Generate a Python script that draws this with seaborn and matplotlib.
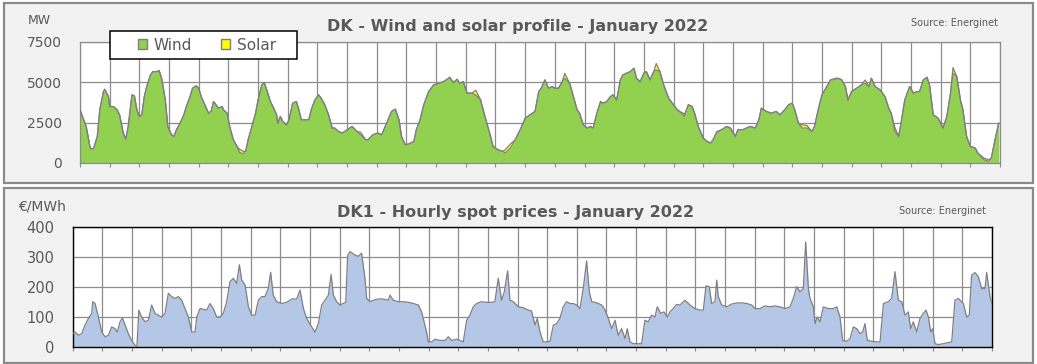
import matplotlib
matplotlib.use("Agg")
import matplotlib.pyplot as plt
import seaborn as sns
import pandas as pd
from matplotlib.patches import Rectangle, Patch

# ---------------- data ----------------
wind_hours = [0, 5, 8, 9, 11, 14, 16, 19, 20, 23, 24, 27, 30, 32, 35, 37, 39, 42, 44, 46,
              48, 50, 52, 54, 57, 59, 62, 64, 66, 69, 71, 74, 76, 78, 81, 84, 86, 89, 91, 94,
              96, 98, 101, 104, 106, 108, 110, 112, 115, 116, 119, 121, 124, 127, 129, 132, 134, 136, 139, 142,
              144, 147, 149, 151, 154, 156, 159, 160, 162, 164, 167, 169, 172, 175, 177, 179, 182, 185, 187, 190,
              193, 195, 198, 201, 204, 206, 209, 212, 214, 220, 224, 227, 231, 233, 237, 241, 244, 248, 252, 255,
              258, 260, 263, 266, 270, 272, 275, 278, 282, 286, 290, 294, 297, 299, 302, 305, 307, 310, 313, 317,
              320, 324, 326, 329, 332, 334, 338, 342, 344, 348, 352, 356, 360, 364, 368, 371, 373, 376, 379, 382,
              384, 387, 390, 392, 396, 399, 402, 404, 407, 410, 413, 415, 418, 421, 423, 426, 429, 431, 434, 437,
              439, 442, 445, 448, 450, 453, 456, 458, 461, 464, 466, 469, 472, 476, 479, 483, 485, 489, 492, 495,
              497, 500, 504, 507, 510, 512, 515, 519, 523, 526, 530, 532, 536, 539, 542, 546, 549, 551, 555, 559,
              563, 566, 570, 573, 576, 578, 581, 584, 588, 592, 594, 597, 600, 604, 607, 611, 613, 616, 619, 621,
              624, 628, 632, 635, 638, 640, 643, 647, 651, 654, 656, 659, 662, 664, 667, 671, 674, 677, 679, 682,
              685, 687, 690, 694, 698, 701, 704, 706, 709, 712, 714, 717, 720, 724, 726, 731, 735, 737, 740, 743]
wind_mw = [3290, 2260, 1030, 860, 900, 1640, 3290, 4420, 4560, 4110, 3490, 3490, 3290, 2980, 1850, 1480, 2260, 4210, 4150, 3290,
           2880, 2980, 4110, 4730, 5450, 5650, 5650, 5710, 5240, 3900, 2260, 1750, 1640, 2060, 2470, 2980, 3490, 4110, 4620, 4770,
           4620, 4110, 3600, 3080, 3190, 3800, 3600, 3390, 3490, 3290, 3080, 2260, 1440, 1030, 650, 575, 720, 1440, 2260, 3080,
           3900, 4830, 4970, 4520, 3800, 3490, 2980, 2470, 2880, 2570, 2360, 2670, 3700, 3800, 3290, 2670, 2670, 2670, 3290, 3900,
           4210, 4010, 3600, 2980, 2160, 2160, 1950, 1850, 1950, 2260, 1950, 1750, 1440, 1440, 1750, 1850, 1750, 2470, 3190, 3330,
           2670, 1640, 1130, 1180, 1340, 2060, 2670, 3600, 4420, 4830, 4930, 5030, 5180, 5300, 4970, 5180, 4930, 5030, 4320, 4320,
           4200, 3900, 3290, 2470, 1640, 1030, 820, 720, 620, 920, 1440, 2060, 2770, 2980, 3190, 4420, 4620, 5140, 4620, 4730,
           4620, 4620, 5030, 5240, 4930, 4110, 3290, 3080, 2360, 2160, 2260, 2160, 3080, 3800, 3700, 3800, 4110, 4210, 3900, 5140,
           5450, 5550, 5650, 5860, 5240, 5030, 5550, 5650, 5140, 5650, 5750, 5650, 4830, 4010, 3700, 3290, 3190, 2880, 3600, 3490,
           3080, 2260, 1540, 1340, 1230, 1440, 1850, 2060, 2260, 2160, 1640, 2060, 2060, 2160, 2260, 2160, 2670, 3390, 3190, 3080,
           3190, 2980, 3290, 3600, 3700, 3290, 2470, 2160, 2160, 1950, 2260, 3290, 4210, 4730, 5140, 5140, 5240, 5140, 4730, 3900,
           4420, 4620, 4830, 4930, 4730, 5240, 4730, 4520, 4110, 3390, 3080, 1950, 1640, 2470, 3900, 4730, 4320, 4420, 4420, 5140,
           5300, 4830, 2980, 2770, 2160, 2880, 4320, 5550, 5350, 3900, 3290, 1640, 1030, 920, 620, 200, 100, 310, 1440, 2470]
# solar is only visible as small daytime slivers on top of wind
solar_hours = [129, 132, 227, 320, 344, 348, 392, 466, 489, 515, 584, 588, 611, 635, 659, 706, 731, 735]
solar_mw = [200, 150, 150, 300, 200, 250, 300, 400, 150, 100, 200, 150, 100, 200, 250, 350, 100, 100]

price_hours = [0, 1.9, 4.6, 7.3, 10, 12.7, 15.4, 16.2, 18.1, 20.8, 23.5, 26.2, 28.9, 31.6, 34.3, 36.1, 38.3, 40.2, 42.4, 45,
               47.7, 50.4, 52, 53.5, 55.8, 58.5, 61.2, 63.9, 66.6, 69.3, 72, 74.7, 77.4, 80.1, 82.8, 85.5, 88.2, 90.9, 93.6, 96.3,
               99, 100.4, 103, 105.7, 108.4, 111.1, 113.8, 116.5, 119.2, 121.9, 124.6, 127.3, 130, 132.7, 134.9, 136.8, 139.5, 142.2, 144.9, 147.6,
               150.3, 153, 155.6, 158.3, 160.2, 162.3, 165.1, 169.1, 173.2, 177.2, 181.3, 184, 186.7, 189.4, 193.4, 196.1, 198.8, 201.5, 204.2, 206.9,
               209.1, 211, 213.6, 216.3, 219, 221, 222.5, 224.4, 228.4, 231.1, 233.8, 236.5, 237.9, 240.6, 243.3, 247.3, 251.4, 255.4, 256.8, 259.5,
               263.5, 267.6, 271.6, 275.6, 279.7, 282.4, 283.7, 286.4, 287.8, 290.5, 293.2, 297.2, 301.3, 304, 306.7, 310.7, 313.4, 316.1, 318.8, 321.5,
               324.2, 326.9, 330.9, 335, 339, 341.7, 344.4, 347.1, 349.3, 352, 353.9, 356.6, 360.6, 364.7, 368.7, 371.4, 374.1, 376, 378.2, 380.8,
               383.6, 386.3, 389, 391.6, 394.3, 397, 399.7, 402.4, 405.1, 407.8, 410.5, 413.2, 415.9, 418.1, 420, 422.7, 425.4, 428.1, 430.8, 433.5,
               436.2, 438.9, 441.5, 444.2, 447, 448.8, 451, 453.7, 457.7, 460.4, 463.1, 465.8, 468.5, 471.2, 473.1, 475.8, 478.5, 481.2, 483.4, 486,
               488.7, 491.5, 495.5, 499.6, 503.6, 507.7, 510.4, 512.5, 515.2, 517.1, 519.8, 521.2, 522.5, 525.2, 529.3, 533.3, 537.4, 541.4, 545.5, 549.5,
               552.2, 556.2, 560.3, 564.3, 568.4, 572.4, 576.5, 580.5, 583.2, 585.9, 588.6, 591.3, 593.2, 595.4, 596.7, 599.4, 600.8, 602.6, 604.8, 607.5,
               611.5, 615.6, 618.3, 621, 623.1, 626.4, 629.1, 631.8, 634.5, 637.2, 639.3, 641.2, 643.1, 646.6, 650.7, 653.4, 656.1, 660.1, 662.8, 665.5,
               668.2, 670.9, 673.6, 676.3, 678.2, 680.3, 683, 685.7, 688.4, 690.6, 692.5, 694.4, 696, 697.9, 700.6, 704.6, 708.7, 711.4, 714, 716.7,
               720.8, 723.5, 725.6, 727.5, 730.2, 732.9, 735.6, 738.3, 739.7, 742.4, 744]
price_eur = [45, 50, 39, 45, 73, 95, 112, 151, 145, 100, 50, 34, 39, 67, 61, 50, 84, 97, 73, 45,
             22, 6, 2, 123, 100, 84, 89, 140, 112, 106, 100, 112, 179, 168, 162, 168, 156, 128, 100, 50,
             50, 100, 128, 126, 123, 145, 128, 100, 100, 112, 151, 218, 229, 212, 274, 223, 207, 134, 106, 106,
             156, 168, 168, 195, 249, 173, 151, 145, 149, 160, 160, 190, 128, 95, 67, 50, 78, 140, 156, 173,
             242, 173, 151, 140, 145, 150, 305, 318, 307, 302, 313, 229, 162, 151, 156, 160, 160, 156, 173, 156,
             151, 151, 149, 145, 140, 117, 95, 50, 17, 17, 26, 22, 22, 34, 22, 26, 22, 17, 89, 106,
             134, 145, 151, 149, 149, 151, 229, 156, 184, 254, 156, 151, 134, 131, 123, 120, 73, 95, 50, 17,
             17, 19, 73, 78, 95, 134, 151, 145, 145, 140, 128, 195, 287, 184, 151, 149, 145, 140, 123, 95,
             61, 89, 39, 61, 28, 61, 17, 11, 11, 11, 89, 84, 106, 100, 134, 112, 117, 100, 117, 128,
             142, 140, 156, 140, 128, 123, 123, 204, 201, 145, 151, 223, 168, 140, 134, 143, 147, 147, 145, 140,
             128, 128, 137, 134, 137, 134, 128, 134, 162, 201, 184, 195, 350, 195, 162, 134, 78, 100, 84, 134,
             128, 128, 134, 100, 22, 19, 28, 67, 61, 45, 50, 78, 22, 19, 17, 17, 145, 151, 162, 251,
             156, 151, 106, 117, 61, 84, 50, 95, 112, 123, 100, 50, 61, 11, 8, 11, 15, 17, 156, 162,
             145, 100, 106, 240, 248, 235, 195, 195, 249, 168, 145]

day_edges = list(range(0, 745, 24))
wind_ticks = [0, 2500, 5000, 7500]
price_ticks = [0, 100, 200, 300, 400]

# ---------------- styling ----------------
sns.set_theme(style="white")
plt.rcParams['font.family'] = ['DejaVu Sans']
TXT = '#595959'
GRID = '#8c8c8c'
W, H = 1037, 364

wdf = pd.DataFrame({'hour': wind_hours, 'wind': wind_mw})
wdf['solar'] = wdf['hour'].map(dict(zip(solar_hours, solar_mw))).fillna(0)
wdf['total'] = wdf['wind'] + wdf['solar']
pdf = pd.DataFrame({'hour': price_hours, 'price': price_eur})

fig = plt.figure(figsize=(W / 100, H / 100), dpi=100)
fig.patch.set_facecolor('white')

def fx(px):
    return px / W

def fy(py):
    return 1 - py / H

# panel backgrounds
for (x0, y0, x1, y1) in [(4, 2.7, 1032.7, 182.7), (4, 188.3, 1032.7, 362.7)]:
    fig.add_artist(Rectangle((fx(x0), fy(y1)), fx(x1) - fx(x0), fy(y0) - fy(y1),
                             transform=fig.transFigure, facecolor='#f2f2f2',
                             edgecolor='#8a8a8a', linewidth=1.6, zorder=0))

# ---------------- top: wind & solar ----------------
ax1 = fig.add_axes([fx(80), fy(163), fx(1000) - fx(80), fy(41.7) - fy(163)])
ax1.set_facecolor('white')
ax1.fill_between(wdf['hour'], 0, wdf['wind'], color='#92d050', linewidth=0, zorder=2)
ax1.fill_between(wdf['hour'], wdf['wind'], wdf['total'], color='#ffff00', linewidth=0, zorder=2)
sns.lineplot(data=wdf, x='hour', y='wind', ax=ax1, color='#7f7f7f', linewidth=0.9, zorder=3)
sns.lineplot(data=wdf, x='hour', y='total', ax=ax1, color='#7f7f7f', linewidth=0.9, zorder=3)
ax1.set_xlim(0, 744)
ax1.set_ylim(0, 7500)
ax1.set_yticks(wind_ticks)
ax1.set_xticks(day_edges)
ax1.set_xticklabels([])
ax1.set_xlabel('')
ax1.set_ylabel('')
ax1.grid(True, color=GRID, linewidth=0.9, zorder=1)
ax1.set_axisbelow(True)
for s in ax1.spines.values():
    s.set_color(GRID)
    s.set_linewidth(0.9)
ax1.tick_params(axis='y', length=0, pad=13, labelsize=10, labelcolor=TXT)
ax1.tick_params(axis='x', length=3, direction='out', color=GRID, width=0.8, bottom=True)

fig.text(fx(518), fy(27), 'DK - Wind and solar profile - January 2022', ha='center', va='center',
         fontsize=11.5, fontweight='bold', color=TXT)
fig.text(fx(998), fy(23), 'Source: Energinet', ha='right', va='center', fontsize=7, color=TXT)
fig.text(fx(28), fy(21), 'MW', ha='left', va='center', fontsize=9, color=TXT)

# legend box (white, black frame) with the legend entries centred inside
fig.add_artist(Rectangle((fx(110), fy(59)), fx(297) - fx(110), fy(31) - fy(59),
                         transform=fig.transFigure, facecolor='white', edgecolor='black',
                         linewidth=1.1, zorder=4))
handles = [Patch(facecolor='#92d050', edgecolor='#7f7f7f', label='Wind'),
           Patch(facecolor='#ffff00', edgecolor='#7f7f7f', label='Solar')]
leg = fig.legend(handles=handles, loc='center', ncol=2,
                 bbox_to_anchor=(fx(207), fy(45)),
                 frameon=False, fontsize=11, handlelength=0.6, handleheight=0.6,
                 handletextpad=0.45, columnspacing=1.9, borderpad=0.0)
leg.set_zorder(5)
for t in leg.get_texts():
    t.set_color(TXT)

# ---------------- bottom: spot prices ----------------
ax2 = fig.add_axes([fx(72.7), fy(347), fx(992) - fx(72.7), fy(227) - fy(347)])
ax2.set_facecolor('white')
ax2.fill_between(pdf['hour'], 0, pdf['price'], color='#b4c7e7', linewidth=0, zorder=2)
sns.lineplot(data=pdf, x='hour', y='price', ax=ax2, color='#808080', linewidth=0.9, zorder=3)
ax2.set_xlim(0, 744)
ax2.set_ylim(0, 400)
ax2.set_yticks(price_ticks)
ax2.set_xticks(day_edges)
ax2.set_xticklabels([])
ax2.set_xlabel('')
ax2.set_ylabel('')
ax2.grid(True, color=GRID, linewidth=0.9, zorder=1)
ax2.set_axisbelow(True)
for s in ax2.spines.values():
    s.set_color('black')
    s.set_linewidth(1.0)
ax2.tick_params(axis='y', length=0, pad=13, labelsize=10.5, labelcolor=TXT)
ax2.tick_params(axis='x', length=3, direction='out', color=GRID, width=0.8, bottom=True)

fig.text(fx(515.5), fy(213), 'DK1 - Hourly spot prices - January 2022', ha='center', va='center',
         fontsize=11.5, fontweight='bold', color=TXT)
fig.text(fx(986), fy(211), 'Source: Energinet', ha='right', va='center', fontsize=7, color=TXT)
fig.text(fx(18), fy(207), '€/MWh', ha='left', va='center', fontsize=10, color=TXT)

fig.savefig('out.png', dpi=100, facecolor='white')
